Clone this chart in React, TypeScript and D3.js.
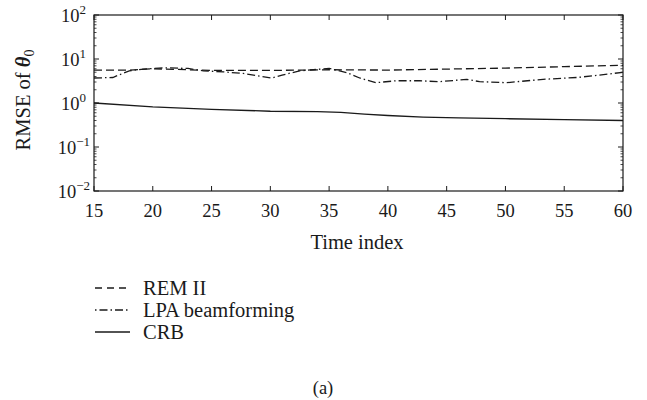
import React from "react";
import * as d3 from "d3";

const remTime = [15, 18, 20, 22, 25, 28, 30, 33, 35, 40, 45, 50, 55, 60];
const remValues = [5.6, 5.6, 6.0, 5.8, 5.5, 5.5, 5.5, 5.6, 5.7, 5.6, 5.9, 6.2, 6.7, 7.2];

const lpaTime = [15, 16.6, 18, 19.2, 21, 23, 24.3, 26, 27.7, 30.1, 31, 32.5, 35, 36.5, 37.6, 39, 40.7, 42.7, 44.4, 46.7, 47.8, 50.1, 53.2, 56.1, 58, 60];
const lpaValues = [3.7, 3.8, 5.4, 5.9, 6.3, 6.1, 5.4, 5.1, 4.7, 3.7, 4.3, 5.4, 6.1, 4.9, 3.7, 2.9, 3.2, 3.2, 3.05, 3.45, 3.05, 2.9, 3.45, 3.8, 4.3, 5.0];

const crbTime = [15, 20, 25, 30, 34, 36, 38, 40, 43, 46, 50, 55, 60];
const crbValues = [1.0, 0.82, 0.72, 0.65, 0.64, 0.61, 0.56, 0.52, 0.48, 0.46, 0.44, 0.42, 0.4];

const xTicks = [15, 20, 25, 30, 35, 40, 45, 50, 55, 60];
const yExponents = [-2, -1, 0, 1, 2];
const legendLabels = ["REM II", "LPA beamforming", "CRB"];

const FONT = "'Liberation Serif', 'Times New Roman', serif";
const INK = "#1a1a1a";

export default function App() {
  const left = 94, right = 623, top = 15, bottom = 191;
  const x = d3.scaleLinear().domain([15, 60]).range([left, right]);
  const y = d3.scaleLog().domain([0.01, 100]).range([bottom, top]);

  const line = d3
    .line<[number, number]>()
    .x((d) => x(d[0]))
    .y((d) => y(d[1]))
    .curve(d3.curveLinear);

  const rem = remTime.map((t, i) => [t, remValues[i]] as [number, number]);
  const lpa = lpaTime.map((t, i) => [t, lpaValues[i]] as [number, number]);
  const crb = crbTime.map((t, i) => [t, crbValues[i]] as [number, number]);

  const minor: number[] = [];
  for (let e = -2; e < 2; e++) {
    for (let k = 2; k <= 9; k++) minor.push(k * Math.pow(10, e));
  }

  const styles = [
    { dash: "8,4", width: 1.3 },
    { dash: "8,3,1.5,3", width: 1.3 },
    { dash: "none", width: 1.3 },
  ];
  const legendY = [288, 310, 332];

  return (
    <svg width={647} height={400} style={{ display: "block", position: "absolute", left: 0, top: 0 }} fontFamily={FONT}>
      <rect x={0} y={0} width={647} height={400} fill="#fff" />
      {/* frame */}
      <rect x={left} y={top} width={right - left} height={bottom - top} fill="none" stroke={INK} strokeWidth={1.2} />
      {/* x ticks */}
      {xTicks.map((t) => (
        <g key={"xt" + t}>
          <line x1={x(t)} x2={x(t)} y1={bottom} y2={bottom - 5} stroke={INK} strokeWidth={1} />
          <line x1={x(t)} x2={x(t)} y1={top} y2={top + 5} stroke={INK} strokeWidth={1} />
          <text x={x(t)} y={216.5} textAnchor="middle" fontSize={18.5} fill={INK}>
            {t}
          </text>
        </g>
      ))}
      {/* y major ticks */}
      {yExponents.map((e) => (
        <g key={"ye" + e}>
          <line x1={left} x2={left + 5} y1={y(Math.pow(10, e))} y2={y(Math.pow(10, e))} stroke={INK} strokeWidth={1} />
          <line x1={right} x2={right - 5} y1={y(Math.pow(10, e))} y2={y(Math.pow(10, e))} stroke={INK} strokeWidth={1} />
          <text x={e < 0 ? 90 : 86} y={y(Math.pow(10, e)) + 7} textAnchor="end" fontSize={18.5} fill={INK}>
            10
            <tspan dy={-8} fontSize={13}>
              {e < 0 ? "\u2212" + Math.abs(e) : String(e)}
            </tspan>
          </text>
        </g>
      ))}
      {/* y minor ticks */}
      {minor.map((v, i) => (
        <g key={"ym" + i}>
          <line x1={left} x2={left + 2.5} y1={y(v)} y2={y(v)} stroke={INK} strokeWidth={0.8} />
          <line x1={right} x2={right - 2.5} y1={y(v)} y2={y(v)} stroke={INK} strokeWidth={0.8} />
        </g>
      ))}
      {/* series */}
      <path d={line(rem) || ""} fill="none" stroke={INK} strokeWidth={styles[0].width} strokeDasharray={styles[0].dash} />
      <path d={line(lpa) || ""} fill="none" stroke={INK} strokeWidth={styles[1].width} strokeDasharray={styles[1].dash} />
      <path d={line(crb) || ""} fill="none" stroke={INK} strokeWidth={styles[2].width} />
      {/* axis labels */}
      <text x={357} y={249} textAnchor="middle" fontSize={20.5} fill={INK}>
        Time index
      </text>
      <text transform={`translate(30, 100) rotate(-90)`} textAnchor="middle" fontSize={20.5} fill={INK}>
        RMSE of{" "}
        <tspan fontWeight="bold" fontStyle="italic">
          θ
        </tspan>
        <tspan dy={4} fontSize={14}>
          0
        </tspan>
      </text>
      {/* legend */}
      {legendLabels.map((lab, i) => (
        <g key={lab}>
          <line
            x1={95}
            x2={130}
            y1={legendY[i]}
            y2={legendY[i]}
            stroke={INK}
            strokeWidth={1.3}
            strokeDasharray={i === 0 ? "7,5" : i === 1 ? "1.5,3,8,3" : "none"}
          />
          <text x={143} y={legendY[i] + 7} fontSize={20.5} fill={INK}>
            {lab}
          </text>
        </g>
      ))}
      <text x={323} y={394} textAnchor="middle" fontSize={18.5} fill={INK}>
        (a)
      </text>
    </svg>
  );
}
